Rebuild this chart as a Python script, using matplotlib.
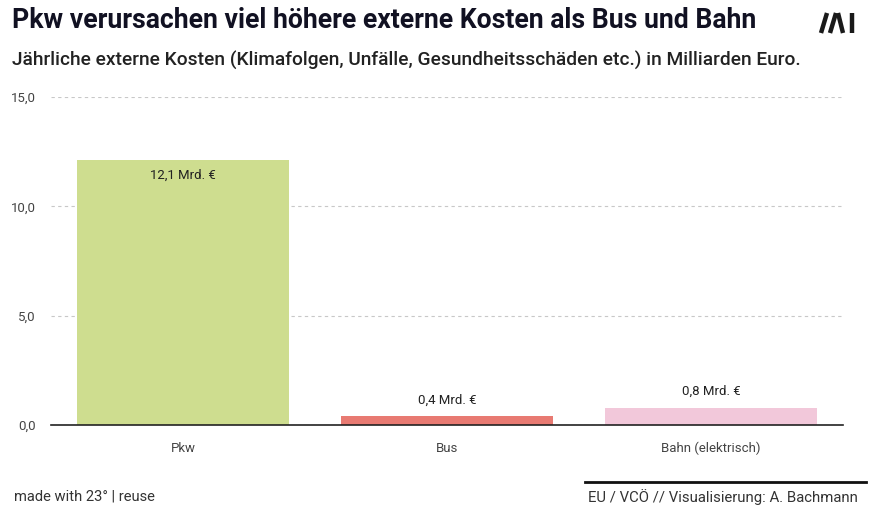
import matplotlib.pyplot as plt
from matplotlib.ticker import FixedLocator

plt.rcParams['font.family'] = ['Roboto', 'DejaVu Sans']

# Daten: jährliche externe Kosten in Mrd. Euro
categories = ["Pkw", "Bus", "Bahn (elektrisch)"]
values = [12.1, 0.4, 0.8]
labels = ["12,1 Mrd. €", "0,4 Mrd. €", "0,8 Mrd. €"]
colors = ["#cedd8f", "#e87a72", "#f2c8da"]
yticks = [0, 5, 10, 15]
ytick_labels = ["0,0", "5,0", "10,0", "15,0"]

fig = plt.figure(figsize=(8.77, 5.32), dpi=100)
ax = fig.add_axes([51 / 877, 1 - 425 / 532, 792 / 877, 328 / 532])

x = range(len(categories))
bars = ax.bar(x, values, width=0.8, color=colors, zorder=2)

# Wertelabels: innen bei großem Balken, sonst darüber
for b, v, lab in zip(bars, values, labels):
    cx = b.get_x() + b.get_width() / 2
    if v > 3:
        ax.text(cx, v - 0.4, lab, ha="center", va="top", fontsize=9.5,
                color="#222222", zorder=3)
    else:
        ax.text(cx, v + 0.45, lab, ha="center", va="bottom", fontsize=9.5,
                color="#222222", zorder=3)

ax.set_xlim(-0.5, len(categories) - 0.5)
ax.set_ylim(0, 15)
ax.yaxis.set_major_locator(FixedLocator(yticks))
ax.set_yticklabels(ytick_labels)
ax.set_xticks(list(x))
ax.set_xticklabels(categories)

ax.grid(axis="y", linestyle=(0, (3, 3)), color="#c8c8c8", linewidth=0.8, zorder=0)
for s in ["top", "right", "left"]:
    ax.spines[s].set_visible(False)
ax.spines["bottom"].set_color("#222222")
ax.spines["bottom"].set_linewidth(1.2)
ax.spines["bottom"].set_zorder(4)
ax.tick_params(axis="y", length=0, pad=11, labelsize=9.5, labelcolor="#444444")
ax.tick_params(axis="x", length=0, pad=12, labelsize=9.5, labelcolor="#444444")

# Titel und Untertitel
fig.text(12 / 877, 1 - 20 / 532, "Pkw verursachen viel höhere externe Kosten als Bus und Bahn",
         fontsize=19.2, fontweight="bold", color="#111122", va="center", ha="left")
fig.text(12 / 877, 1 - 60 / 532,
         "Jährliche externe Kosten (Klimafolgen, Unfälle, Gesundheitsschäden etc.) in Milliarden Euro.",
         fontsize=13.8, fontweight="medium", color="#222222", va="center", ha="left")

# Logo
def px(xp, yp):
    return xp / 877, 1 - yp / 532

for (x0, y0, x1, y1) in [(821, 33, 827, 13), (830, 33, 836, 13), (838, 13, 843, 33), (852, 13, 852, 33)]:
    a = px(x0, y0)
    b = px(x1, y1)
    fig.add_artist(plt.Line2D([a[0], b[0]], [a[1], b[1]], color="#1a1a1a",
                              linewidth=3.2, solid_capstyle="butt"))

# Fußzeile
fig.text(14 / 877, 1 - 497 / 532, "made with 23° | reuse", fontsize=10.6,
         color="#333333", va="center", ha="left")
fig.text(858 / 877, 1 - 497 / 532, "EU / VCÖ // Visualisierung: A. Bachmann", fontsize=10.7,
         color="#333333", va="center", ha="right")
a = px(585, 482)
b = px(866, 482)
fig.add_artist(plt.Line2D([a[0], b[0]], [a[1], b[1]], color="#111111", linewidth=2))

fig.savefig("out.png", dpi=100, facecolor="white")
